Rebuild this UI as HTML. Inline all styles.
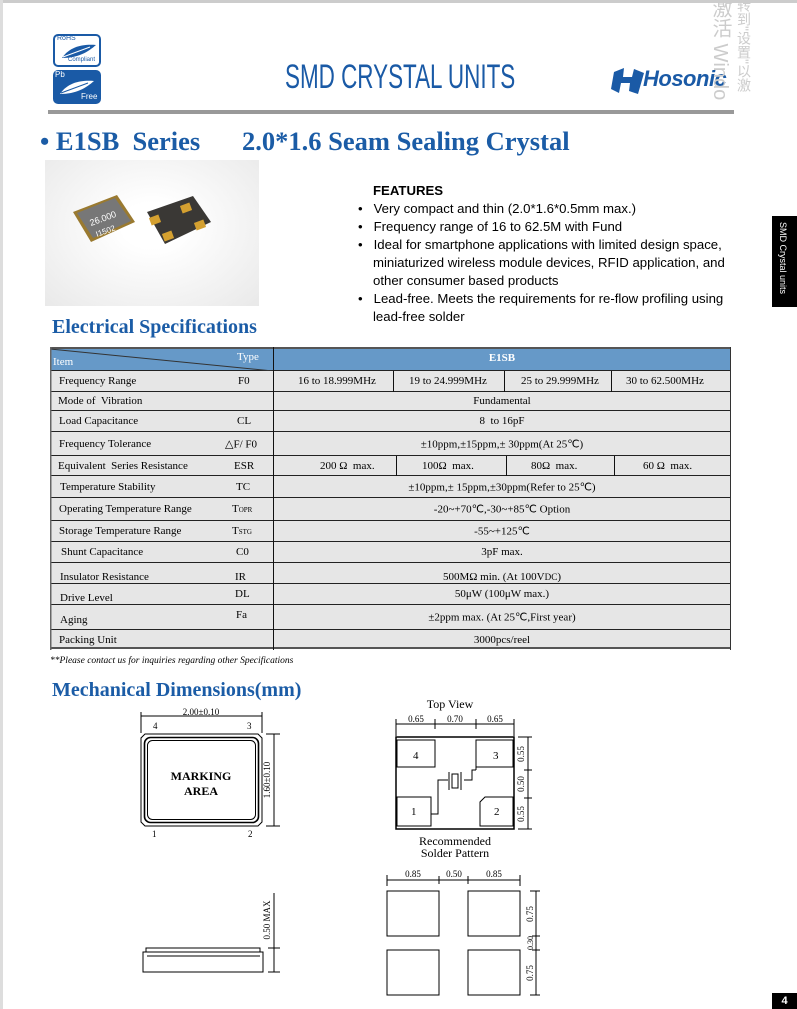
<!DOCTYPE html>
<html><head><meta charset="utf-8"><style>
*{margin:0;padding:0;box-sizing:border-box}
body{width:797px;height:1009px;position:relative;background:#fff;overflow:hidden;font-family:"Liberation Serif",serif;color:#000}
.a{position:absolute;white-space:nowrap}
.s{font-family:"Liberation Sans",sans-serif}
.blue{color:#1b5ca6}
.row{position:absolute;left:50px;width:681px;background:#e6e6e6;border-bottom:1px solid #222;font-size:11px}
.row span{position:absolute;top:50%;transform:translateY(-50%)}
.c{text-align:center}
</style></head><body>
<div class="a" style="left:0;top:0;width:797px;height:3px;background:#ccc"></div>
<div class="a" style="left:0;top:0;width:3px;height:1009px;background:#ddd"></div>

<!-- badges -->
<div class="a" style="left:53px;top:34px;width:48px;height:33px;border:2px solid #1a5aa6;border-radius:5px;background:#fff">
<div class="a s" style="left:2px;top:-1px;font-size:7px;color:#1a5aa6">RoHS</div>
<svg class="a" style="left:5px;top:6px" width="38" height="18"><path d="M2 16 C10 4 24 2 36 3 C28 10 18 16 2 16Z" fill="#1a5aa6"/><path d="M3 15 L30 5" stroke="#fff" stroke-width="1"/></svg>
<div class="a s" style="left:13px;top:21px;font-size:6px;color:#1a5aa6">Compliant</div></div>
<div class="a" style="left:53px;top:70px;width:48px;height:34px;background:#1a5aa6;border-radius:5px">
<div class="a s" style="left:2px;top:0;font-size:8px;color:#fff">Pb</div>
<svg class="a" style="left:5px;top:8px" width="38" height="18"><path d="M2 16 C10 4 24 2 36 3 C28 10 18 16 2 16Z" fill="#fff"/><path d="M3 15 L30 5" stroke="#1a5aa6" stroke-width="1"/></svg>
<div class="a s" style="left:28px;top:22px;font-size:8px;color:#fff">Free</div></div>

<div class="a s" style="left:285px;top:58px;font-size:34px;transform:scaleX(0.66);transform-origin:left top;color:#1a5aa6">SMD CRYSTAL UNITS</div>
<!-- logo -->
<svg class="a" style="left:610px;top:66px" width="36" height="30"><path d="M4 6 L14 2 L13 11 L22 11 L24 3 L34 7 L28 28 L19 25 L20 17 L11 17 L9 27 L1 23 Z" fill="#1a5aa6"/></svg>
<div class="a s" style="left:643px;top:66px;font-size:22px;font-weight:bold;font-style:italic;color:#1a5aa6;letter-spacing:-0.5px">Hosonic</div>
<div class="a" style="left:706px;top:-2px;font-size:20px;color:#ccc;writing-mode:vertical-rl;font-family:'Liberation Sans','Noto Sans CJK SC',sans-serif">激活 Windo</div>
<div class="a" style="left:734px;top:-2px;font-size:14px;color:#ccc;writing-mode:vertical-rl;font-family:'Liberation Sans','Noto Sans CJK SC',sans-serif">转到"设置"以激</div>
<div class="a" style="left:48px;top:110px;width:686px;height:4px;background:#999"></div>

<div class="a blue" style="left:40px;top:126px;font-size:26.5px;font-weight:bold">• E1SB&nbsp; Series</div>
<div class="a blue" style="left:242px;top:126px;font-size:26.5px;font-weight:bold">2.0*1.6 Seam Sealing Crystal</div>

<!-- photo -->
<div class="a" style="left:45px;top:160px;width:214px;height:146px;background:radial-gradient(ellipse at 50% 45%,#fff 20%,#e9e9e9 100%)"></div>
<svg class="a" style="left:45px;top:160px" width="214" height="146">
<polygon points="28,52 72,35 90,62 46,82" fill="#9a7a30"/>
<polygon points="32,53 70,38 86,61 48,78" fill="#777"/>
<text x="46" y="66" font-size="9" fill="#fff" font-family="Liberation Sans" transform="rotate(-20 46 66)">26.000</text>
<text x="52" y="77" font-size="8" fill="#fff" font-family="Liberation Sans" transform="rotate(-20 52 77)">I1502</text>
<polygon points="102,52 148,36 166,62 120,84" fill="#3a3835"/>
<rect x="105" y="56" width="10" height="8" fill="#d4a030" transform="rotate(-20 110 60)"/>
<rect x="136" y="44" width="10" height="8" fill="#d4a030" transform="rotate(-20 141 48)"/>
<rect x="118" y="72" width="10" height="8" fill="#d4a030" transform="rotate(-20 123 76)"/>
<rect x="150" y="61" width="10" height="8" fill="#d4a030" transform="rotate(-20 155 65)"/>
</svg>

<!-- features -->
<div class="s" style="position:absolute;left:358px;top:182px;font-size:13.2px;line-height:18px">
<div style="padding-left:15px;font-weight:bold">FEATURES</div>
<div>•&nbsp;&nbsp; Very compact and thin (2.0*1.6*0.5mm max.)</div>
<div>•&nbsp;&nbsp; Frequency range of 16 to 62.5M with Fund</div>
<div>•&nbsp;&nbsp; Ideal for smartphone applications with limited design space,</div>
<div style="padding-left:15px">miniaturized wireless module devices, RFID application, and</div>
<div style="padding-left:15px">other consumer based products</div>
<div>•&nbsp;&nbsp; Lead-free. Meets the requirements for re-flow profiling using</div>
<div style="padding-left:15px">lead-free solder</div>
</div>
<div class="a" style="left:772px;top:216px;width:25px;height:91px;background:#000"></div>
<div class="a s" style="left:778px;top:222px;font-size:9px;color:#fff;writing-mode:vertical-rl">SMD Crystal units</div>

<div class="a blue" style="left:52px;top:316px;font-size:20px;font-weight:bold">Electrical Specifications</div>

<!-- table -->
<div class="a" style="left:50px;top:347px;width:681px;height:24px;background:#6699c8;border-top:2px solid #555;border-bottom:1px solid #222"></div>
<svg class="a" style="left:50px;top:347px" width="224" height="24"><line x1="0" y1="2" x2="223" y2="24" stroke="#333" stroke-width="1"/></svg>
<div class="a" style="left:53px;top:356px;font-size:11px;color:#fff">Item</div>
<div class="a" style="left:237px;top:351px;font-size:11px;color:#fff">Type</div>
<div class="a" style="left:273px;top:352px;width:458px;text-align:center;font-size:11px;color:#fff;font-weight:bold">E1SB</div>

<div class="row" style="top:371px;height:21px"><span style="left:9px">Frequency Range</span><span style="left:188px">F0</span><span style="left:248px">16 to 18.999MHz</span><span style="left:359px">19 to 24.999MHz</span><span style="left:471px">25 to 29.999MHz</span><span style="left:576px">30 to 62.500MHz</span></div>
<div class="row" style="top:392px;height:19px"><span style="left:8px">Mode of&nbsp; Vibration</span><span class="c" style="left:223px;width:458px">Fundamental</span></div>
<div class="row" style="top:411px;height:21px"><span style="left:9px">Load Capacitance</span><span style="left:187px">CL</span><span class="c" style="left:223px;width:458px">8&nbsp; to 16pF</span></div>
<div class="row" style="top:432px;height:24px"><span style="left:9px">Frequency Tolerance</span><span style="left:175px">△F/ F0</span><span class="c" style="left:223px;width:458px">±10ppm,±15ppm,± 30ppm(At 25℃)</span></div>
<div class="row" style="top:456px;height:20px"><span style="left:8px">Equivalent&nbsp; Series Resistance</span><span style="left:184px">ESR</span><span style="left:270px">200 Ω&nbsp; max.</span><span style="left:372px">100Ω&nbsp; max.</span><span style="left:481px">80Ω&nbsp; max.</span><span style="left:593px">60 Ω&nbsp; max.</span></div>
<div class="row" style="top:476px;height:22px"><span style="left:10px">Temperature Stability</span><span style="left:186px">TC</span><span class="c" style="left:223px;width:458px">±10ppm,± 15ppm,±30ppm(Refer to 25℃)</span></div>
<div class="row" style="top:498px;height:23px"><span style="left:9px">Operating Temperature Range</span><span style="left:182px">T<small style="font-size:7px">OPR</small></span><span class="c" style="left:223px;width:458px">-20~+70℃,-30~+85℃ Option</span></div>
<div class="row" style="top:521px;height:21px"><span style="left:9px">Storage Temperature Range</span><span style="left:182px">T<small style="font-size:7px">STG</small></span><span class="c" style="left:223px;width:458px">-55~+125℃</span></div>
<div class="row" style="top:542px;height:21px"><span style="left:11px">Shunt Capacitance</span><span style="left:186px">C0</span><span class="c" style="left:223px;width:458px">3pF max.</span></div>
<div class="row" style="top:563px;height:21px"><span style="left:10px;top:70%">Insulator Resistance</span><span style="left:185px;top:70%">IR</span><span class="c" style="left:223px;width:458px;top:70%">500MΩ min. (At 100V<small>DC</small>)</span></div>
<div class="row" style="top:584px;height:21px"><span style="left:10px;top:70%">Drive Level</span><span style="left:185px">DL</span><span class="c" style="left:223px;width:458px">50μW (100μW max.)</span></div>
<div class="row" style="top:605px;height:25px"><span style="left:10px;top:62%">Aging</span><span style="left:186px;top:40%">Fa</span><span class="c" style="left:223px;width:458px">±2ppm max. (At 25℃,First year)</span></div>
<div class="row" style="top:630px;height:19px;border-bottom:2px solid #555"><span style="left:9px;top:60%">Packing Unit</span><span class="c" style="left:223px;width:458px;top:60%">3000pcs/reel</span></div>
<svg class="a" style="left:50px;top:347px" width="682" height="303">
<line x1="0.5" y1="0" x2="0.5" y2="303" stroke="#666" stroke-width="2"/>
<line x1="680.5" y1="0" x2="680.5" y2="303" stroke="#333"/>
<line x1="223.5" y1="0" x2="223.5" y2="303" stroke="#111"/>
<g stroke="#111"><line x1="343.5" y1="24" x2="343.5" y2="45"/><line x1="454.5" y1="24" x2="454.5" y2="45"/><line x1="561.5" y1="24" x2="561.5" y2="45"/>
<line x1="346.5" y1="109" x2="346.5" y2="129"/><line x1="456.5" y1="109" x2="456.5" y2="129"/><line x1="564.5" y1="109" x2="564.5" y2="129"/></g>
</svg>
<div class="a" style="left:50px;top:656px;font-size:9.5px;font-style:italic">**Please contact us for inquiries regarding other Specifications</div>

<div class="a blue" style="left:52px;top:679px;font-size:20px;font-weight:bold">Mechanical Dimensions(mm)</div>

<svg class="a" style="left:0;top:690px" width="797" height="319" font-family="Liberation Serif" font-size="9">
<g transform="translate(0,-690)" stroke="#000" fill="none" stroke-width="1">
<line x1="141" y1="716" x2="262" y2="716"/><line x1="141" y1="712" x2="141" y2="733"/><line x1="262" y1="712" x2="262" y2="733"/>
<polygon points="145,734 258,734 262,738 262,822 258,826 145,826 141,822 141,738"/>
<rect x="144.5" y="737.5" width="114" height="85" rx="6" stroke-width="1.6"/>
<rect x="147.5" y="740.5" width="108" height="79" rx="5"/>
<line x1="274" y1="734" x2="274" y2="826"/><line x1="266" y1="734" x2="280" y2="734"/><line x1="266" y1="826" x2="280" y2="826"/>
<rect x="143" y="952" width="120" height="20"/><rect x="146" y="948" width="114" height="4"/>
<line x1="147" y1="956" x2="260" y2="956"/>
<line x1="274" y1="893" x2="274" y2="972"/><line x1="268" y1="948" x2="280" y2="948"/><line x1="268" y1="972" x2="280" y2="972"/>
<line x1="396" y1="724" x2="514" y2="724"/><line x1="396" y1="719" x2="396" y2="736"/><line x1="435" y1="719" x2="435" y2="729"/><line x1="476" y1="719" x2="476" y2="729"/><line x1="514" y1="719" x2="514" y2="736"/>
<rect x="396" y="737" width="118" height="92" stroke-width="1.5"/>
<rect x="397" y="740" width="38" height="27"/><rect x="476" y="740" width="37" height="27"/>
<rect x="397" y="797" width="34" height="29" fill="#fff"/><polygon points="485,797 513,797 513,826 480,826 480,802" fill="#fff"/>
<path d="M431 814 H438 V780 H448 M464 780 H472 V770 H476 M476 760 V770"/>
<rect x="452" y="774" width="6" height="14"/><line x1="449" y1="772" x2="449" y2="790"/><line x1="461" y1="772" x2="461" y2="790"/>
<line x1="528" y1="737" x2="528" y2="829"/><line x1="518" y1="737" x2="532" y2="737"/><line x1="524" y1="770" x2="532" y2="770"/><line x1="524" y1="798" x2="532" y2="798"/><line x1="518" y1="829" x2="532" y2="829"/>
<line x1="387" y1="880" x2="520" y2="880"/><line x1="387" y1="875" x2="387" y2="886"/><line x1="439" y1="876" x2="439" y2="884"/><line x1="468" y1="876" x2="468" y2="884"/><line x1="520" y1="875" x2="520" y2="886"/>
<rect x="387" y="891" width="52" height="45"/><rect x="468" y="891" width="52" height="45"/>
<rect x="387" y="950" width="52" height="45"/><rect x="468" y="950" width="52" height="45"/>
<line x1="536" y1="891" x2="536" y2="995"/><line x1="530" y1="891" x2="540" y2="891"/><line x1="532" y1="936" x2="540" y2="936"/><line x1="532" y1="950" x2="540" y2="950"/><line x1="530" y1="995" x2="540" y2="995"/>
</g>
<g transform="translate(0,-690)" fill="#000">
<text x="201" y="715" text-anchor="middle">2.00±0.10</text>
<text x="153" y="729">4</text><text x="247" y="729">3</text><text x="152" y="837">1</text><text x="248" y="837">2</text>
<text x="201" y="780" text-anchor="middle" font-size="12" font-weight="bold">MARKING</text>
<text x="201" y="795" text-anchor="middle" font-size="12" font-weight="bold">AREA</text>
<text transform="translate(270,780) rotate(-90)" text-anchor="middle">1.60±0.10</text>
<text transform="translate(270,920) rotate(-90)" text-anchor="middle">0.50 MAX</text>
<text x="450" y="708" text-anchor="middle" font-size="12">Top View</text>
<text x="416" y="722" text-anchor="middle">0.65</text><text x="455" y="722" text-anchor="middle">0.70</text><text x="495" y="722" text-anchor="middle">0.65</text>
<text x="413" y="759" font-size="11">4</text><text x="493" y="759" font-size="11">3</text><text x="411" y="815" font-size="11">1</text><text x="494" y="815" font-size="11">2</text>
<text transform="translate(524,754) rotate(-90)" text-anchor="middle">0.55</text>
<text transform="translate(524,784) rotate(-90)" text-anchor="middle">0.50</text>
<text transform="translate(524,814) rotate(-90)" text-anchor="middle">0.55</text>
<text x="455" y="845" text-anchor="middle" font-size="12">Recommended</text>
<text x="455" y="857" text-anchor="middle" font-size="12">Solder Pattern</text>
<text x="413" y="877" text-anchor="middle">0.85</text><text x="454" y="877" text-anchor="middle">0.50</text><text x="494" y="877" text-anchor="middle">0.85</text>
<text transform="translate(533,914) rotate(-90)" text-anchor="middle">0.75</text>
<text transform="translate(533,943) rotate(-90)" text-anchor="middle" font-size="8">0.30</text>
<text transform="translate(533,973) rotate(-90)" text-anchor="middle">0.75</text>
</g>
</svg>
<div class="a s" style="left:772px;top:993px;width:25px;height:16px;background:#000;color:#fff;font-size:11px;font-weight:bold;text-align:center;line-height:16px">4</div>
</body></html>
